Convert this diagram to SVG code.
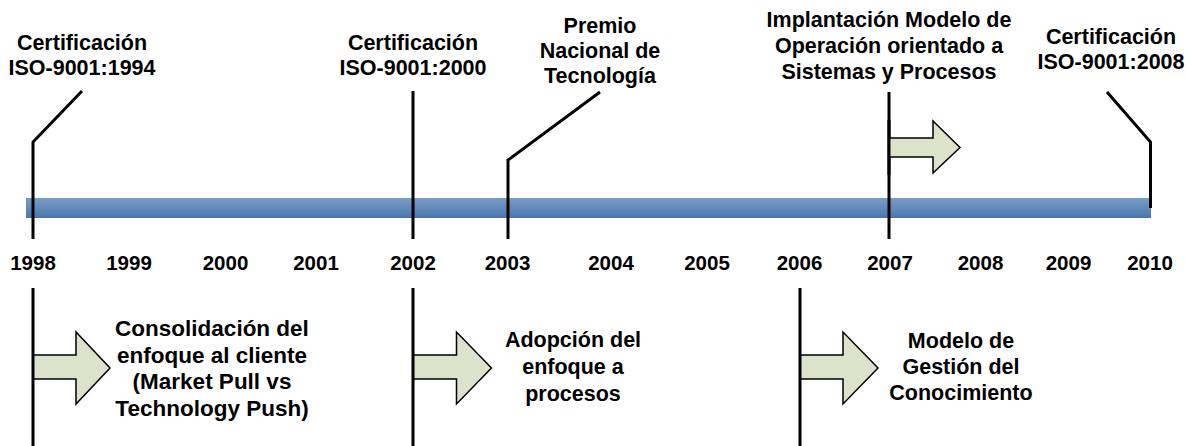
<svg xmlns="http://www.w3.org/2000/svg" width="1186" height="446" viewBox="0 0 1186 446">
<defs>
<linearGradient id="barGrad" x1="0" y1="0" x2="0" y2="1">
<stop offset="0" stop-color="#7a9cc9"/>
<stop offset="1" stop-color="#4b76ab"/>
</linearGradient>
</defs>
<style>
.t{font-family:"Liberation Sans",Arial,sans-serif;font-weight:bold;fill:#000;text-anchor:middle}
.title{font-size:21.5px}
.yr{font-size:20.5px}
.desc{font-size:21.5px}
.big{font-size:22.5px}
.ln{stroke:#000;stroke-width:3;fill:none;stroke-linejoin:miter}
.arr{fill:#dde2cb;stroke:#000;stroke-width:1.5;stroke-linejoin:miter}
</style>
<rect width="1186" height="446" fill="#fff"/>

<g id="timeline">
<rect x="26" y="198" width="1125" height="20" fill="url(#barGrad)"/>
</g>

<g id="years" class="t yr">
<text x="33" y="270">1998</text>
<text x="129" y="270">1999</text>
<text x="225.5" y="270">2000</text>
<text x="316" y="270">2001</text>
<text x="413" y="270">2002</text>
<text x="507.5" y="270">2003</text>
<text x="611" y="270">2004</text>
<text x="707" y="270">2005</text>
<text x="799.5" y="270">2006</text>
<text x="890" y="270">2007</text>
<text x="980.5" y="270">2008</text>
<text x="1068.5" y="270">2009</text>
<text x="1150" y="270">2010</text>
</g>

<g id="connectors">
<polyline class="ln" points="82,91 33,142 33,239"/>
<polyline class="ln" points="413,91 413,239"/>
<polyline class="ln" points="600,92 508,160 508,239"/>
<polyline class="ln" points="889,92 889,239"/>
<polyline class="ln" points="1107,92 1150.5,142 1150.5,208"/>
</g>

<g id="m1998" class="t title">
<text x="82" y="50">Certificación</text>
<text x="82" y="75">ISO-9001:1994</text>
</g>
<g id="m2002" class="t title">
<text x="413" y="50">Certificación</text>
<text x="413" y="75">ISO-9001:2000</text>
</g>
<g id="m2003" class="t title">
<text x="600" y="33">Premio</text>
<text x="600" y="58">Nacional de</text>
<text x="600" y="83">Tecnología</text>
</g>
<g id="m2007">
<polygon class="arr" points="889,138 933,138 933,121 960,147.5 933,173 933,157 889,157"/>
<line class="ln" x1="889" y1="120" x2="889" y2="175"/>
<g class="t title">
<text x="889" y="27">Implantación Modelo de</text>
<text x="889" y="53">Operación orientado a</text>
<text x="889" y="79">Sistemas y Procesos</text>
</g>
</g>
<g id="m2010" class="t title">
<text x="1111" y="44">Certificación</text>
<text x="1111" y="69">ISO-9001:2008</text>
</g>

<g id="p1998">
<polygon class="arr" points="33,355 76,355 76,332 110,368 76,404 76,379 33,379"/>
<line class="ln" x1="33" y1="288" x2="33" y2="446"/>
<g class="t big">
<text x="212" y="336">Consolidación del</text>
<text x="212" y="362.5">enfoque al cliente</text>
<text x="212" y="389">(Market Pull vs</text>
<text x="212" y="415.5">Technology Push)</text>
</g>
</g>
<g id="p2002">
<polygon class="arr" points="413,355 456.5,355 456.5,332 491.5,368 456.5,404 456.5,379 413,379"/>
<line class="ln" x1="413" y1="288" x2="413" y2="446"/>
<g class="t desc">
<text x="573" y="347">Adopción del</text>
<text x="573" y="374">enfoque a</text>
<text x="573" y="401">procesos</text>
</g>
</g>
<g id="p2006">
<polygon class="arr" points="800,355 843,355 843,332 878,368 843,404 843,379 800,379"/>
<line class="ln" x1="800" y1="288" x2="800" y2="446"/>
<g class="t desc">
<text x="961" y="348">Modelo de</text>
<text x="961" y="374">Gestión del</text>
<text x="961" y="400">Conocimiento</text>
</g>
</g>
</svg>
